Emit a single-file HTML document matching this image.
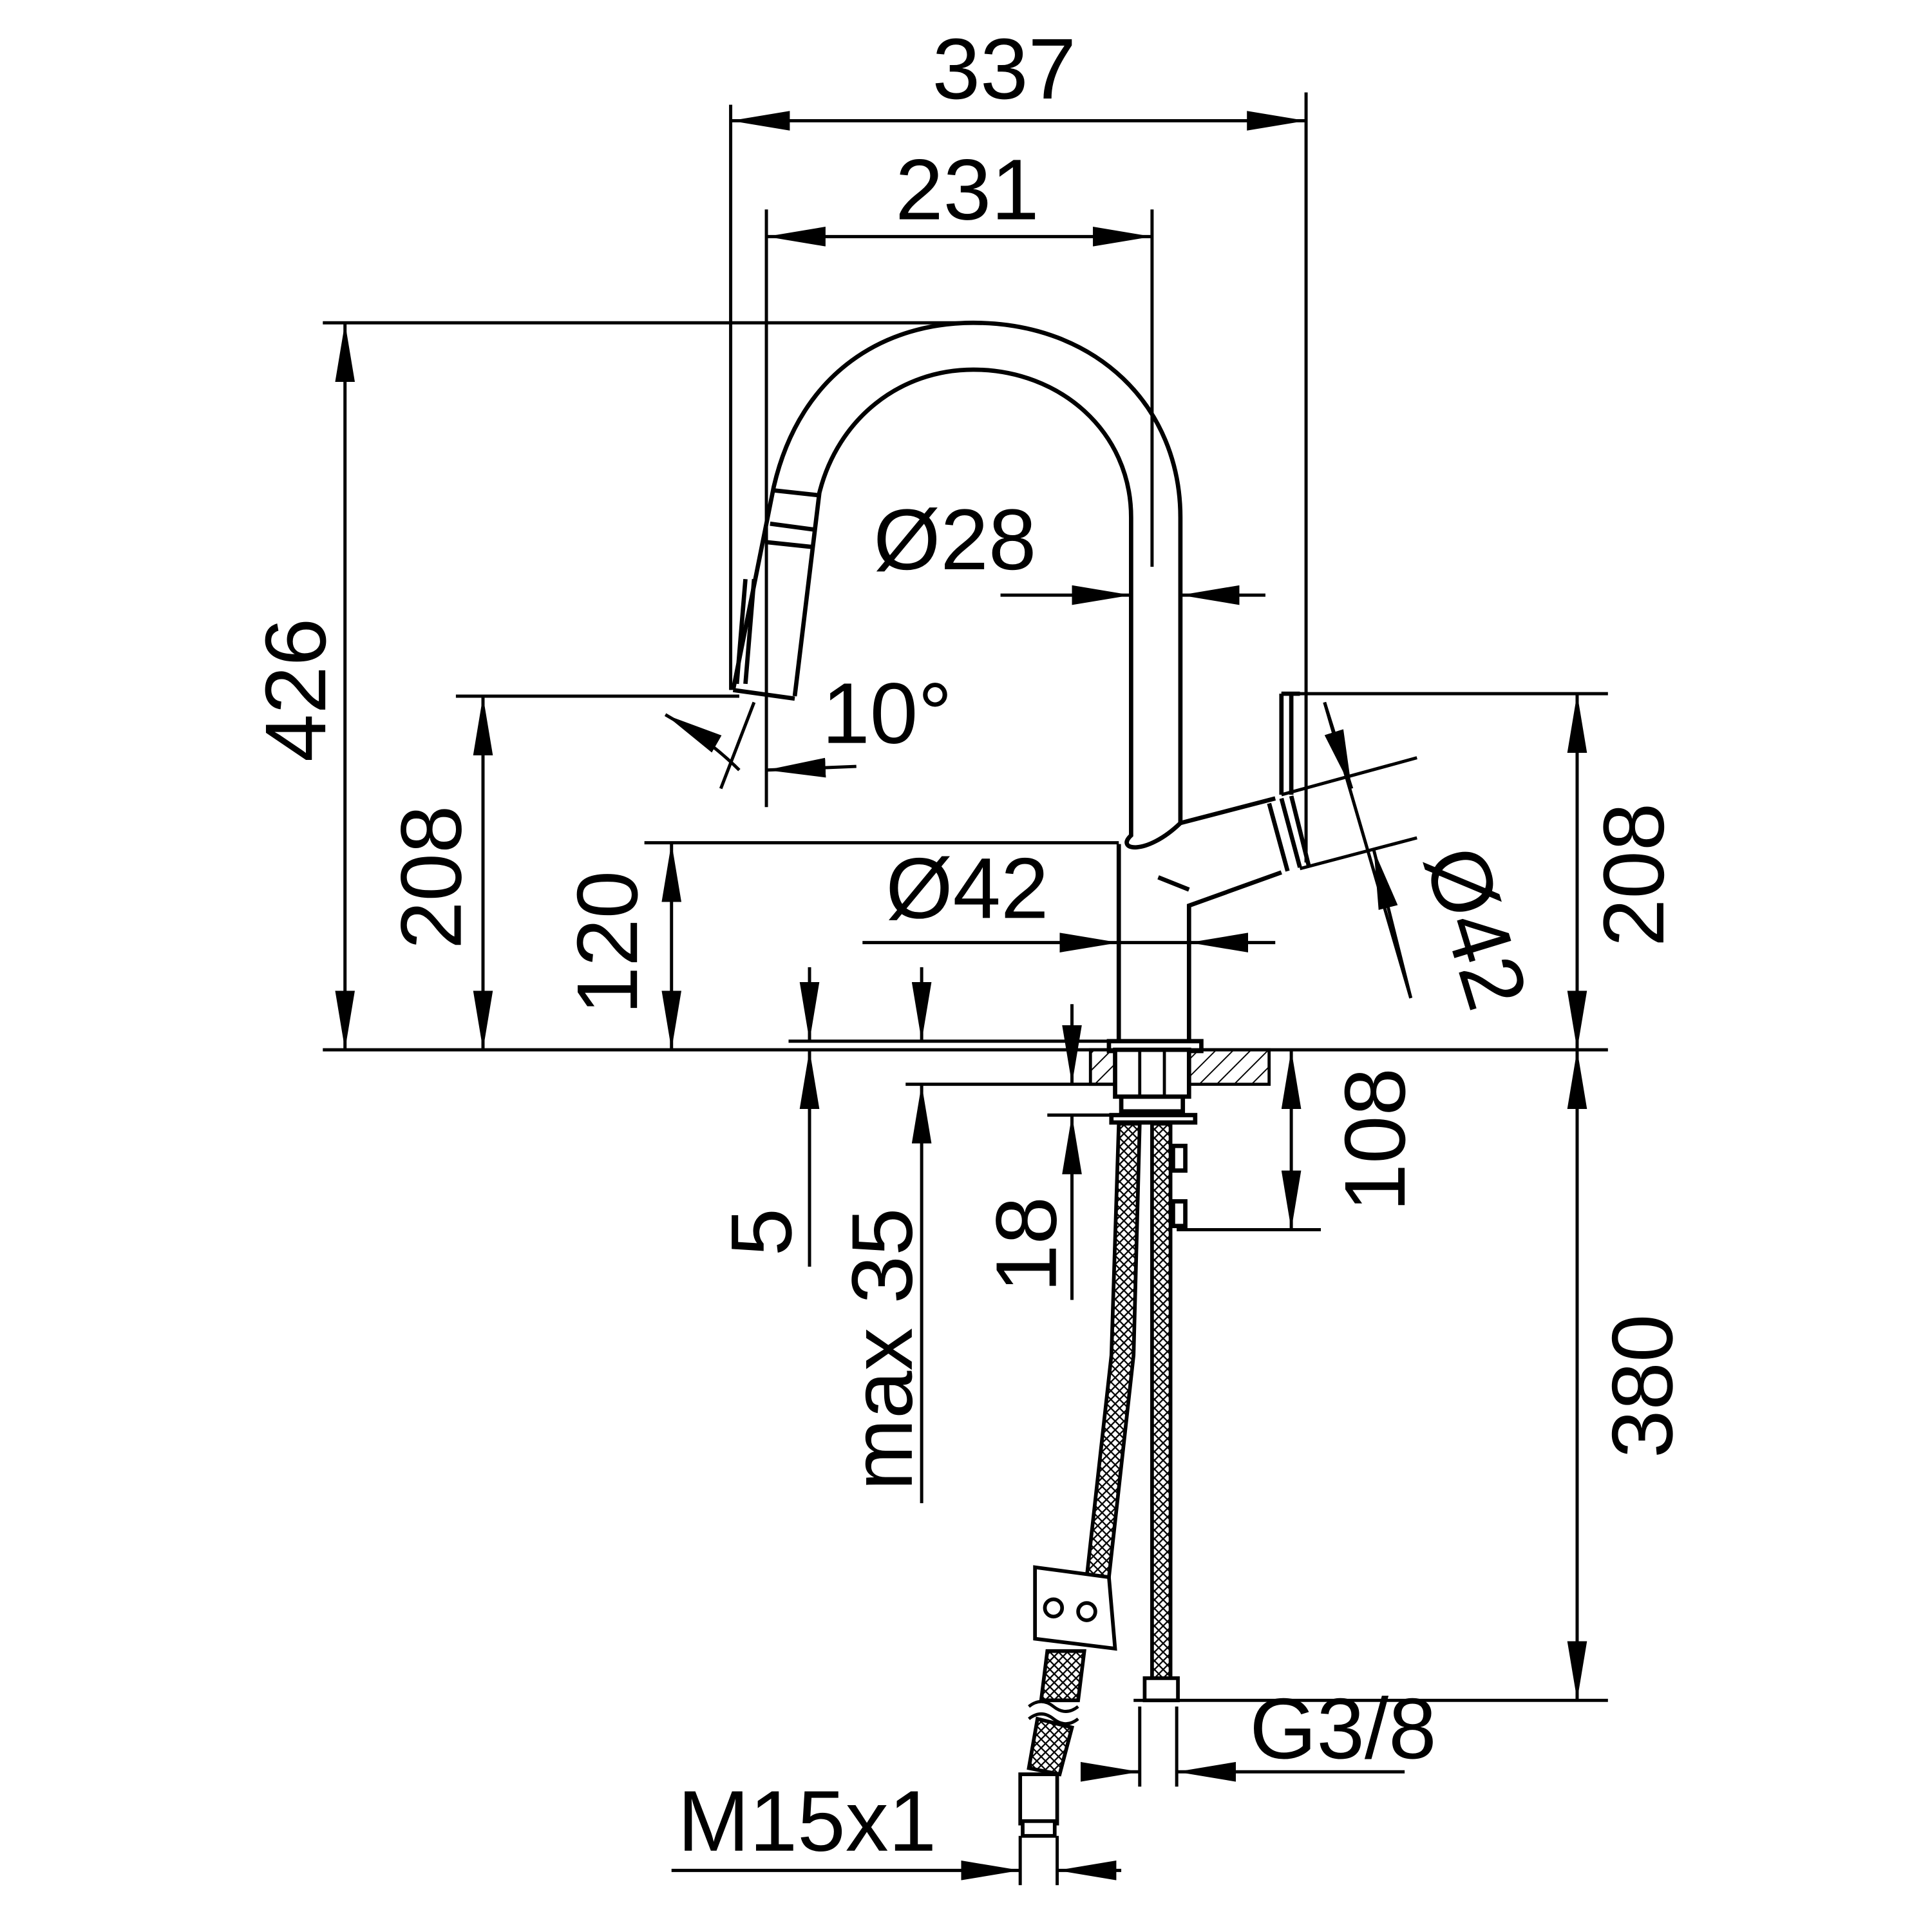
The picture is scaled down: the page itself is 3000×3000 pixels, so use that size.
<!DOCTYPE html>
<html><head><meta charset="utf-8"><style>
html,body{margin:0;padding:0;background:#fff}
svg{display:block}
text{font-family:"Liberation Sans",sans-serif;font-size:70px;fill:#000}
</style></head><body>
<svg width="3000" height="3000" viewBox="0 0 1568 1568" xmlns="http://www.w3.org/2000/svg">
<defs>
<marker id="a" viewBox="0 0 48 16" refX="48" refY="8" markerWidth="48" markerHeight="16" markerUnits="userSpaceOnUse" orient="auto-start-reverse"><path d="M0,0 L48,8 L0,16 Z" fill="#000"/></marker>
<pattern id="h" width="10" height="10" patternUnits="userSpaceOnUse" patternTransform="rotate(45)"><line x1="0" y1="0" x2="0" y2="10" stroke="#000" stroke-width="2"/></pattern>
<pattern id="m" width="5" height="5" patternUnits="userSpaceOnUse" patternTransform="rotate(45)"><rect width="5" height="5" fill="#fff"/><path d="M0,0 H5 M0,0 V5" stroke="#000" stroke-width="2.4"/></pattern>
</defs>
<g stroke="#000" stroke-width="2.6" fill="none">
<line x1="593" y1="85" x2="593" y2="560"/>
<line x1="1060" y1="75" x2="1060" y2="700"/>
<line x1="622" y1="170" x2="622" y2="655"/>
<line x1="935" y1="170" x2="935" y2="460"/>
<line x1="262" y1="262" x2="790" y2="262"/>
<line x1="262" y1="852" x2="1305" y2="852"/>
<line x1="370" y1="565" x2="600" y2="565"/>
<line x1="523" y1="684" x2="908" y2="684"/>
<line x1="1040" y1="563" x2="1305" y2="563"/>
<line x1="920" y1="1380" x2="1305" y2="1380"/>
<line x1="955" y1="998" x2="1072" y2="998"/>
<line x1="640" y1="845" x2="905" y2="845"/>
<line x1="735" y1="880" x2="905" y2="880"/>
<line x1="850" y1="905" x2="915" y2="905"/>
<line x1="925" y1="1385" x2="925" y2="1450"/>
<line x1="955" y1="1385" x2="955" y2="1450"/>
<line x1="828" y1="1490" x2="828" y2="1530"/>
<line x1="858" y1="1490" x2="858" y2="1530"/>
<line x1="593" y1="98" x2="1060" y2="98" marker-start="url(#a)" marker-end="url(#a)"/>
<line x1="622" y1="192" x2="935" y2="192" marker-start="url(#a)" marker-end="url(#a)"/>
<line x1="280" y1="262" x2="280" y2="852" marker-start="url(#a)" marker-end="url(#a)"/>
<line x1="392" y1="565" x2="392" y2="852" marker-start="url(#a)" marker-end="url(#a)"/>
<line x1="545" y1="684" x2="545" y2="852" marker-start="url(#a)" marker-end="url(#a)"/>
<line x1="1280" y1="563" x2="1280" y2="852" marker-start="url(#a)" marker-end="url(#a)"/>
<line x1="1280" y1="852" x2="1280" y2="1380" marker-start="url(#a)" marker-end="url(#a)"/>
<line x1="1048" y1="852" x2="1048" y2="998" marker-start="url(#a)" marker-end="url(#a)"/>
<line x1="700" y1="765" x2="908" y2="765" marker-end="url(#a)"/>
<line x1="1035" y1="765" x2="965" y2="765" marker-end="url(#a)"/>
<line x1="908" y1="765" x2="965" y2="765"/>
<line x1="812" y1="483" x2="918" y2="483" marker-end="url(#a)"/>
<line x1="1027" y1="483" x2="958" y2="483" marker-end="url(#a)"/>
<line x1="657" y1="785" x2="657" y2="845" marker-end="url(#a)"/>
<line x1="657" y1="1028" x2="657" y2="852" marker-end="url(#a)"/>
<line x1="748" y1="785" x2="748" y2="845" marker-end="url(#a)"/>
<line x1="748" y1="1220" x2="748" y2="880" marker-end="url(#a)"/>
<line x1="870" y1="815" x2="870" y2="880" marker-end="url(#a)"/>
<line x1="870" y1="1055" x2="870" y2="905" marker-end="url(#a)"/>
<line x1="880" y1="1438" x2="925" y2="1438" marker-end="url(#a)"/>
<line x1="1140" y1="1438" x2="955" y2="1438" marker-end="url(#a)"/>
<line x1="545" y1="1518" x2="828" y2="1518" marker-end="url(#a)"/>
<line x1="910" y1="1518" x2="858" y2="1518" marker-end="url(#a)"/>
<line x1="612" y1="570" x2="585" y2="640"/>
<line x1="695" y1="622" x2="622" y2="625" marker-end="url(#a)"/>
<path d="M540,580 Q575,600 600,625" marker-start="url(#a)"/>
<line x1="1075" y1="570" x2="1145" y2="810"/>
<line x1="1040" y1="645" x2="1150" y2="615"/>
<line x1="1055" y1="705" x2="1150" y2="680"/>
<line x1="1075" y1="570" x2="1097" y2="640" marker-end="url(#a)"/>
<line x1="1145" y1="810" x2="1115" y2="690" marker-end="url(#a)"/>
</g>
<g stroke="#000" stroke-width="3.5" fill="none">
<path d="M595,560 L628,395 C650,300 720,262 790,262 C890,262 958,330 958,420 L958,668"/>
<path d="M645,565 L665,400 C680,340 730,300 790,300 C860,300 918,350 918,420 L918,678 C905,690 930,695 958,668"/>
<path d="M595,560 L645,567"/>
<path d="M628,398 L665,402 M625,425 L662,430 M622,440 L660,444"/>
<path d="M605,470 L598,555 M612,470 L605,555"/>
<path d="M908,685 L908,845 M965,845 L965,735 L1040,708 M958,668 L1035,648"/>
<path d="M940,712 L965,722"/>
<path d="M1030,652 L1045,707 M1040,648 L1055,704 M1048,646 L1062,702"/>
<path d="M1040,563 L1040,645 M1048,563 L1048,645 M1040,563 L1055,563"/>
<rect x="900" y="845" width="75" height="8"/>
<rect x="910" y="890" width="50" height="12"/>
<rect x="902" y="905" width="68" height="6"/>
<rect x="952" y="930" width="10" height="20"/>
<rect x="952" y="975" width="10" height="20"/>
</g>
<rect x="885" y="852" width="145" height="28" fill="url(#h)" stroke="#000" stroke-width="2.5"/>
<rect x="905" y="852" width="60" height="38" fill="#fff" stroke="#000" stroke-width="3.5"/>
<line x1="925" y1="852" x2="925" y2="890" stroke="#000" stroke-width="2.5"/>
<line x1="945" y1="852" x2="945" y2="890" stroke="#000" stroke-width="2.5"/>
<path d="M908,912 L925,912 L920,1100 L900,1280 L882,1280 L902,1100 Z" fill="url(#m)" stroke="#000" stroke-width="3"/>
<rect x="935" y="912" width="15" height="450" fill="url(#m)" stroke="#000" stroke-width="3"/>
<rect x="929" y="1362" width="27" height="18" fill="#fff" stroke="#000" stroke-width="3"/>
<path d="M850,1340 L880,1340 L875,1380 L845,1380 Z" fill="url(#m)" stroke="#000" stroke-width="3"/>
<g stroke="#000" stroke-width="3" fill="#fff">
<path d="M840,1272 L900,1280 L905,1338 L840,1330 Z"/>
<circle cx="855" cy="1305" r="7"/><circle cx="882" cy="1308" r="7"/>
<path d="M842,1395 L870,1402 L860,1440 L835,1435 Z" fill="url(#m)"/>
<rect x="828" y="1440" width="30" height="40"/>
<rect x="830" y="1478" width="26" height="12"/>
</g>
<path d="M835,1385 q10,-8 20,0 t20,0 M835,1395 q10,-8 20,0 t20,0" stroke="#000" stroke-width="2.5" fill="none"/>
<text x="815" y="80" text-anchor="middle">337</text>
<text x="785" y="178" text-anchor="middle">231</text>
<text x="775" y="462" text-anchor="middle">Ø28</text>
<text x="785" y="745" text-anchor="middle">Ø42</text>
<text x="720" y="603" text-anchor="middle">10°</text>
<text x="1090" y="1427" text-anchor="middle">G3/8</text>
<text x="655" y="1502" text-anchor="middle">M15x1</text>
<text transform="translate(264,560) rotate(-90)" text-anchor="middle">426</text>
<text transform="translate(374,712) rotate(-90)" text-anchor="middle">208</text>
<text transform="translate(517,765) rotate(-90)" text-anchor="middle">120</text>
<text transform="translate(642,1000) rotate(-90)" text-anchor="middle">5</text>
<text transform="translate(740,1095) rotate(-90)" text-anchor="middle">max 35</text>
<text transform="translate(857,1010) rotate(-90)" text-anchor="middle">18</text>
<text transform="translate(1350,710) rotate(-90)" text-anchor="middle">208</text>
<text transform="translate(1140,925) rotate(-90)" text-anchor="middle">108</text>
<text transform="translate(1357,1125) rotate(-90)" text-anchor="middle">380</text>
<text transform="translate(1175,760) rotate(73)" text-anchor="middle">Ø42</text>
</svg>
</body></html>
